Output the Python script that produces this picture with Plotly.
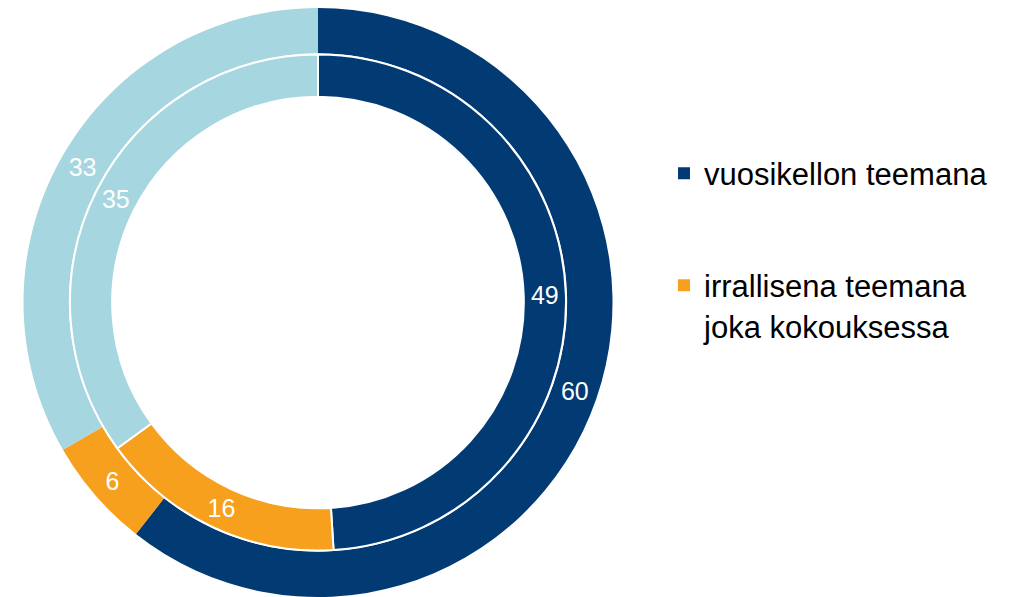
import plotly.graph_objects as go

categories = ["vuosikellon teemana", "irrallisena teemana<br>joka kokouksessa", "muu"]
outer_values = [60, 6, 33]
inner_values = [49, 16, 35]
colors = ["#023a74", "#f7a01d", "#a6d6e0"]

W, H = 1025, 597
OFF = 8  # page body margin

def px_domain(cx, cy, r):
    # pixel circle (page coords) -> paper domain
    cx, cy = cx - OFF, cy - OFF
    return dict(x=[max(0, (cx - r) / W), min(1, (cx + r) / W)],
                y=[max(0, 1 - (cy + r) / H), min(1, 1 - (cy - r) / H)])

label_font = dict(color="white", size=25, family="Liberation Sans")

fig = go.Figure()

fig.add_trace(go.Pie(
    labels=categories, values=outer_values, sort=False, direction="clockwise", rotation=0,
    hole=0.846, domain=px_domain(318, 302.5, 294.5),
    marker=dict(colors=colors, line=dict(width=0)),
    texttemplate="%{value}", textposition="inside", insidetextorientation="horizontal",
    textfont=label_font, hoverinfo="label+value", showlegend=False,
))

fig.add_trace(go.Pie(
    labels=categories, values=inner_values, sort=False, direction="clockwise", rotation=0,
    hole=0.83, domain=px_domain(318, 302.5, 248),
    marker=dict(colors=colors, line=dict(color="white", width=2)),
    texttemplate="%{value}", textposition="inside", insidetextorientation="horizontal",
    textfont=label_font, hoverinfo="label+value", showlegend=False,
))

# legend entries (only the first two categories are shown)
for i, leg in enumerate(["legend", "legend2"]):
    fig.add_trace(go.Scatter(
        x=[None], y=[None], mode="markers", name=categories[i],
        marker=dict(symbol="square", size=13, color=colors[i]),
        legend=leg, showlegend=True,
    ))

legend_style = dict(
    font=dict(size=31, family="Liberation Sans", color="black"),
    bgcolor="rgba(0,0,0,0)", xanchor="left", yanchor="top", valign="top",
    itemsizing="constant",
)

fig.update_layout(
    width=W, height=H,
    margin=dict(l=0, r=0, t=0, b=0),
    paper_bgcolor="white", plot_bgcolor="white",
    xaxis=dict(visible=False), yaxis=dict(visible=False),
    uniformtext=dict(minsize=25, mode="show"),
    legend=dict(x=656 / W, y=1 - 138.5 / H, **legend_style),
    legend2=dict(x=656 / W, y=1 - 250.5 / H, **legend_style),
)

fig.write_html("out.html")
